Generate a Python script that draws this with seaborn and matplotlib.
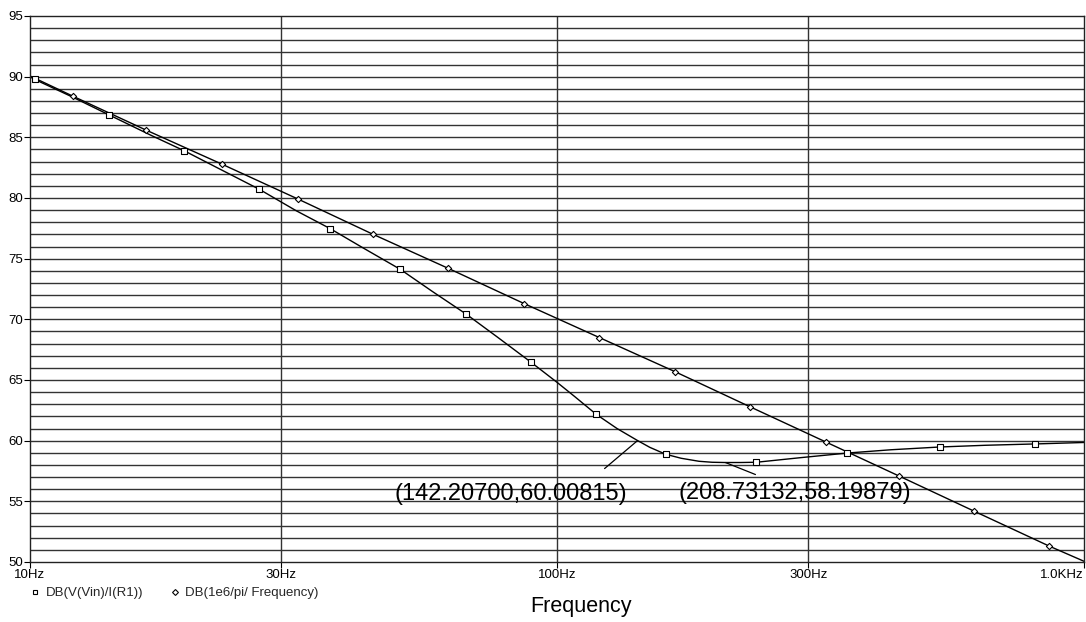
import matplotlib
matplotlib.use("Agg")
import matplotlib.pyplot as plt
import seaborn as sns
import numpy as np
import pandas as pd
from matplotlib.lines import Line2D

# ---- data ----
# Series 1: DB(V(Vin)/I(R1)) -- trace points (Hz, dB)
s1_freq = [10, 10.2, 12, 14.14, 17, 19.6, 23, 27.23, 32, 37.14, 43, 50.43, 58, 67.3,
           77, 89.3, 100, 108, 118.7, 130, 142.207, 150, 160.8, 172, 186, 197,
           208.73, 223, 238.9, 290, 355.6, 430, 533.7, 650, 808.2, 1000]
s1_db = [90.0, 89.78, 88.35, 86.84, 85.15, 83.9, 82.35, 80.72, 78.95, 77.47, 75.85,
         74.12, 72.3, 70.42, 68.55, 66.46, 64.81, 63.64, 62.17, 61.0, 60.008, 59.45,
         58.88, 58.55, 58.3, 58.22, 58.199, 58.2, 58.22, 58.6, 58.98, 59.25, 59.48,
         59.62, 59.73, 59.85]
# indices of the trace points that carry a square marker
s1_marker_idx = [1, 3, 5, 7, 9, 11, 13, 15, 18, 22, 28, 30, 32, 34]

# Series 2: DB(1e6/pi/ Frequency)
s2_freq = [10, 12.05, 16.6, 23.1, 32.3, 44.8, 62.2, 86.6, 120.3, 167.2, 232.2,
           323.4, 445, 618, 860, 1000]
s2_db = [90.06, 88.4, 85.6, 82.8, 79.9, 77.0, 74.2, 71.3, 68.5, 65.7, 62.8,
         59.9, 57.1, 54.2, 51.3, 50.06]

series_labels = ["DB(V(Vin)/I(R1))", "DB(1e6/pi/ Frequency)"]
x_ticks = [10, 30, 100, 300, 1000]
x_ticklabels = ["10Hz", "30Hz", "100Hz", "300Hz", "1.0KHz"]
y_ticks = [50, 55, 60, 65, 70, 75, 80, 85, 90, 95]
cursor1 = (142.207, 60.00815)
cursor2 = (208.73132, 58.19879)

# ---- plotting ----
sns.set_theme(style="white")
plt.rcParams["font.family"] = ["Liberation Sans", "DejaVu Sans"]

fig = plt.figure(figsize=(10.86, 6.22), dpi=100)
ax = fig.add_axes([30 / 1086, 60 / 622, 1054 / 1086, 546 / 622])

df1 = pd.DataFrame({"f": s1_freq, "db": s1_db})
df2 = pd.DataFrame({"f": s2_freq, "db": s2_db})
m1 = df1.iloc[s1_marker_idx]
m2 = df2.iloc[1:-1]

sns.lineplot(data=df1, x="f", y="db", ax=ax, color="black", lw=1.0, sort=False,
             estimator=None)
sns.lineplot(data=df2, x="f", y="db", ax=ax, color="black", lw=1.0, sort=False,
             estimator=None)
sns.scatterplot(data=m1, x="f", y="db", ax=ax, marker="s", s=18,
                facecolor="white", edgecolor="black", linewidth=0.8, zorder=5)
sns.scatterplot(data=m2, x="f", y="db", ax=ax, marker="D", s=10,
                facecolor="white", edgecolor="black", linewidth=0.8, zorder=5)

ax.set_xscale("log")
ax.set_xlim(10, 1000)
ax.set_ylim(50, 95)

# grid
for v in range(51, 95):
    ax.axhline(v, color="#333333", lw=1.0, zorder=0)
for f in x_ticks[1:-1]:
    ax.axvline(f, color="#333333", lw=1.0, zorder=0)

ax.set_xticks(x_ticks)
ax.set_xticklabels(x_ticklabels)
ax.xaxis.set_minor_locator(matplotlib.ticker.NullLocator())
ax.set_yticks(y_ticks)
ax.set_yticklabels([str(v) for v in y_ticks])
ax.tick_params(axis="both", which="major", direction="out", length=4, width=0.8,
               color="black", labelsize=9.5, pad=1, labelcolor="black")
ax.tick_params(axis="both", which="major", bottom=True, left=True)
labs = ax.get_xticklabels()
labs[-1].set_horizontalalignment("right")
for s in ax.spines.values():
    s.set_color("#222222")
    s.set_linewidth(1.0)

ax.set_xlabel("Frequency", fontsize=15.5, color="black")
ax.xaxis.label.set_va("center")
ax.xaxis.set_label_coords(0.523, -0.081)
ax.set_ylabel("")

# cursors / annotations
ax.annotate("", xy=cursor1, xytext=(-33, -28), textcoords="offset pixels",
            arrowprops=dict(arrowstyle="-", color="black", lw=0.9,
                            shrinkA=0, shrinkB=0))
ax.annotate("(%.5f,%.5f)" % cursor1, xy=cursor1, xytext=(-243, -53),
            textcoords="offset pixels", ha="left", va="center", fontsize=17,
            color="black")
ax.annotate("", xy=cursor2, xytext=(30, -12), textcoords="offset pixels",
            arrowprops=dict(arrowstyle="-", color="black", lw=0.9,
                            shrinkA=0, shrinkB=0))
ax.annotate("(%.5f,%.5f)" % cursor2, xy=cursor2, xytext=(-47, -30),
            textcoords="offset pixels", ha="left", va="center", fontsize=17,
            color="black")

# legend under the axis
handles = [
    Line2D([], [], linestyle="none", marker="s", markersize=3.5,
           markerfacecolor="white", markeredgecolor="black", markeredgewidth=0.8),
    Line2D([], [], linestyle="none", marker="D", markersize=3,
           markerfacecolor="white", markeredgecolor="black", markeredgewidth=0.8),
]
fig.legend(handles, series_labels, loc="center left",
           bbox_to_anchor=(31 / 1086, 1 - 593 / 622), ncol=2, frameon=False,
           fontsize=9.5, handlelength=0.6, handletextpad=0.5, columnspacing=2.1,
           borderpad=0, borderaxespad=0)

fig.savefig("out.png", dpi=100, facecolor="white")
